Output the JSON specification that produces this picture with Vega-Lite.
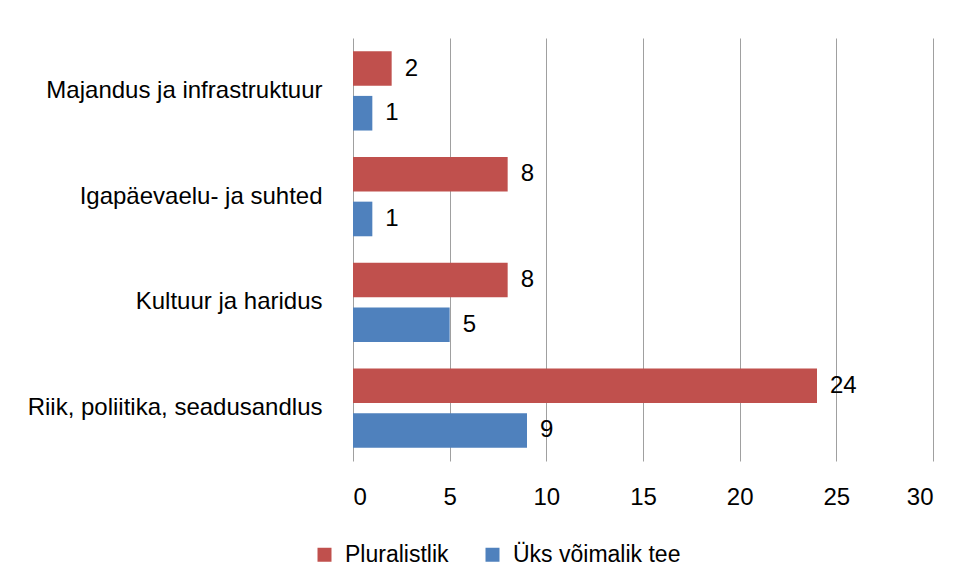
{
  "$schema": "https://vega.github.io/schema/vega-lite/v6.json",
  "width": 580,
  "height": 423,
  "autosize": {"type": "none"},
  "padding": {"left": 353, "top": 38, "right": 30, "bottom": 126},
  "background": "white",
  "config": {"view": {"stroke": null}, "font": "Liberation Sans"},
  "data": {
    "values": [
      {"kategooria": "Majandus ja infrastruktuur", "seeria": "Pluralistlik", "vaartus": 2},
      {"kategooria": "Majandus ja infrastruktuur", "seeria": "Üks võimalik tee", "vaartus": 1},
      {"kategooria": "Igapäevaelu- ja suhted", "seeria": "Pluralistlik", "vaartus": 8},
      {"kategooria": "Igapäevaelu- ja suhted", "seeria": "Üks võimalik tee", "vaartus": 1},
      {"kategooria": "Kultuur ja haridus", "seeria": "Pluralistlik", "vaartus": 8},
      {"kategooria": "Kultuur ja haridus", "seeria": "Üks võimalik tee", "vaartus": 5},
      {"kategooria": "Riik, poliitika, seadusandlus", "seeria": "Pluralistlik", "vaartus": 24},
      {"kategooria": "Riik, poliitika, seadusandlus", "seeria": "Üks võimalik tee", "vaartus": 9}
    ]
  },
  "encoding": {
    "y": {
      "field": "kategooria",
      "type": "nominal",
      "sort": ["Majandus ja infrastruktuur", "Igapäevaelu- ja suhted", "Kultuur ja haridus", "Riik, poliitika, seadusandlus"],
      "scale": {"paddingInner": 0.25, "paddingOuter": 0.125},
      "axis": {"title": null, "ticks": false, "domain": false, "labelPadding": 31, "labelFontSize": 24, "labelColor": "#000000", "labelLimit": 400}
    },
    "yOffset": {
      "field": "seeria",
      "type": "nominal",
      "sort": ["Pluralistlik", "Üks võimalik tee"],
      "scale": {"paddingInner": 0.225, "paddingOuter": 0}
    },
    "x": {
      "field": "vaartus",
      "type": "quantitative",
      "scale": {"domain": [0, 30], "nice": false},
      "axis": {"title": null, "values": [0, 5, 10, 15, 20, 25, 30], "grid": true, "gridColor": "#a0a0a0", "gridWidth": 1, "domain": false, "ticks": false, "labelPadding": 24, "labelFontSize": 24, "labelColor": "#000000"}
    }
  },
  "layer": [
    {
      "mark": {"type": "bar"},
      "encoding": {
        "color": {
          "field": "seeria",
          "type": "nominal",
          "scale": {"domain": ["Pluralistlik", "Üks võimalik tee"], "range": ["#C0504D", "#4F81BD"]},
          "legend": {"orient": "none", "legendX": -40, "legendY": 505, "direction": "horizontal", "title": null, "symbolType": "square", "symbolSize": 196, "symbolStrokeWidth": 0, "labelFontSize": 23, "labelLimit": 400, "labelColor": "#000000", "columnPadding": 32, "labelOffset": 9, "padding": 0}
        }
      }
    },
    {
      "mark": {"type": "text", "align": "left", "baseline": "middle", "dx": 13, "fontSize": 24, "color": "#000000"},
      "encoding": {"text": {"field": "vaartus", "type": "quantitative"}}
    }
  ]
}
